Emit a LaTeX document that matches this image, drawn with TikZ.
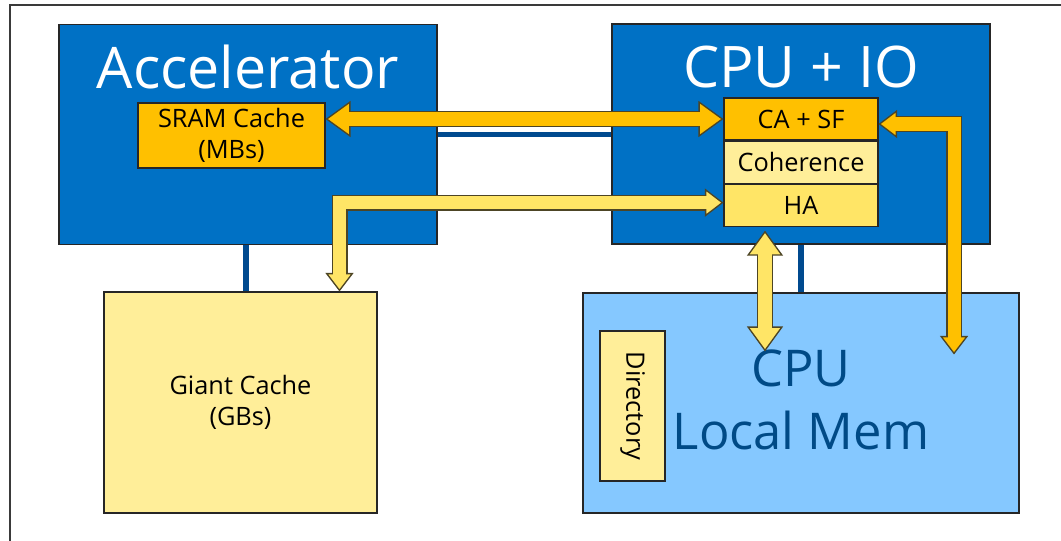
\documentclass[tikz,border=0pt]{standalone}
\usepackage{fontspec}
\setmainfont{Open Sans}
\usetikzlibrary{arrows.meta,positioning,calc}
\definecolor{chipblue}{HTML}{0071C5}
\definecolor{memblue}{HTML}{85C8FF}
\definecolor{linkblue}{HTML}{004A8F}
\definecolor{memink}{HTML}{004A86}
\definecolor{cacheorange}{HTML}{FFC000}
\definecolor{paleyellow}{HTML}{FFEE99}
\definecolor{hayellow}{HTML}{FFE566}
\definecolor{pipeedge}{HTML}{4D4525}
\definecolor{frameink}{HTML}{3A3A3A}

\begin{document}
\begin{tikzpicture}[
        x=.75pt,y=-.75pt,
        box/.style={draw=black!85,line width=.8pt,inner sep=0pt,align=center},
        chip/.style={box,fill=chipblue,minimum width=283.5pt,minimum height=165pt},
        title/.style={text=white,font=\fontsize{43}{46}\selectfont},
        small/.style={font=\fontsize{19}{23.25}\selectfont},
        cell/.style={box,small,minimum width=115.5pt,minimum height=31.5pt},
        link/.style={draw=linkblue,line width=4pt},
        pipebig/.style={line width=12pt,draw=pipeedge,line join=miter,
          arrows={Triangle[length=18.75pt,width=27pt,line width=1pt,fill=#1]-Triangle[length=18.75pt,width=27pt,line width=1pt,fill=#1]},
          postaction={draw=#1,line width=9.8pt,-,shorten <=16.75pt,shorten >=16.75pt}},
        pipesmall/.style={line width=12pt,draw=pipeedge,line join=miter,
          arrows={Triangle[length=13.9pt,width=21pt,line width=1pt,fill=#1]-Triangle[length=13.9pt,width=21pt,line width=1pt,fill=#1]},
          postaction={draw=#1,line width=9.8pt,-,shorten <=11.9pt,shorten >=11.9pt}}
      ]
        \useasboundingbox (0,0) rectangle (1061,540);
        \draw[frameink,line width=1pt] (10,5) rectangle (1075,555);

        \node[chip] (accel) at (248,134.5) {};
        \node[title,anchor=base] (acceltitle) at ([yshift=-48.75pt]accel.north) {Accelerator};
        \node[box,small,fill=cacheorange,minimum width=140.25pt,minimum height=48.75pt] (sram) at (231.5,135.5) {SRAM Cache\\(MBs)};

        \node[chip] (cpuio) at (801,134) {};
        \node[title,anchor=base] (cpuiotitle) at ([yshift=-48pt]cpuio.north) {CPU + IO};
        \node[cell,fill=cacheorange] (casf) at (801,119) {CA + SF};
        \node[cell,fill=paleyellow,below=0pt of casf] (coher) {Coherence};
        \node[cell,fill=hayellow,below=0pt of coher] (ha) {HA};

        \node[box,small,fill=paleyellow,minimum width=204.75pt,minimum height=165.75pt] (giant) at (240.5,402.5) {Giant Cache\\(GBs)};

        \node[box,fill=memblue,minimum width=327pt,minimum height=165pt] (mem) at (801,403) {};
        \node[text=memink,align=center,font=\fontsize{38}{47.25}\selectfont] (memtitle) at (801,400) {CPU\\Local Mem};
        \node[box,small,fill=paleyellow,rotate=-90,minimum width=112.5pt,minimum height=48.75pt] (dir) at (632.5,406) {Directory};

        \draw[link] ([xshift=-1.5pt]accel.south) -- ([xshift=-1.5pt]accel.south |- giant.north);
        \draw[link] (accel.east) -- (accel.east -| cpuio.west);
        \draw[link] (cpuio.south) -- (cpuio.south |- mem.north);

        \coordinate (memtap) at ($(mem.north east)+(-65.5,62)$);
        \draw[pipebig=cacheorange] (sram.east |- casf.west) -- (casf.west);
        \draw[pipesmall=cacheorange] ([yshift=-3.75pt]casf.east) -| (memtap);
        \draw[pipesmall=hayellow] ([yshift=1.875pt]ha.west) -| ($(giant.north)+(99,0)$);
        \draw[pipebig=hayellow] ($(ha.south)+(-36,4)$) -- ($(mem.north)+(-36,59)$);
      \end{tikzpicture}
\end{document}
